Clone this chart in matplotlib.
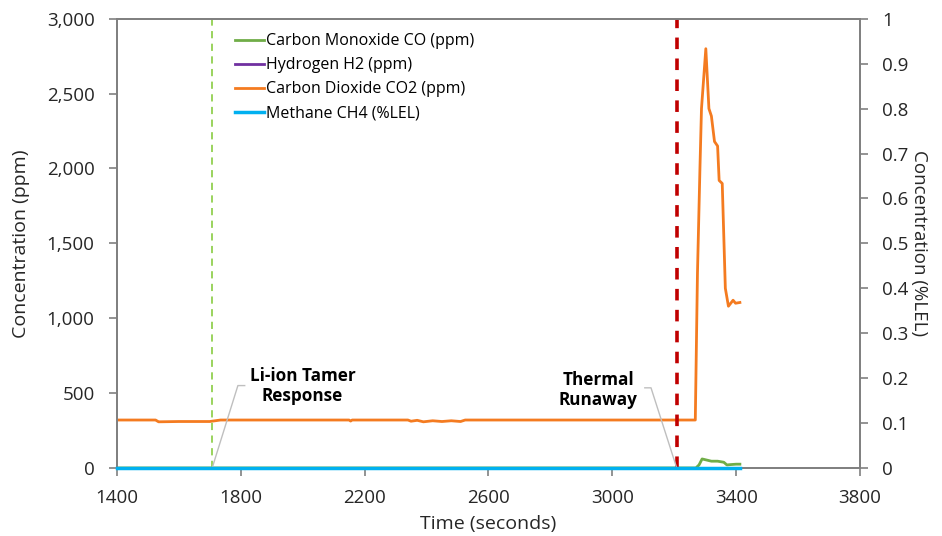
import matplotlib.pyplot as plt
from matplotlib.ticker import FuncFormatter

plt.rcParams['font.family'] = ['Open Sans', 'DejaVu Sans']

# CO2 (ppm)
co2_t = [1400, 1525, 1535, 1600, 1700, 1735, 2150, 2155, 2160, 2340, 2350, 2370, 2390, 2420,
         2450, 2480, 2510, 2525, 3268, 3275, 3283, 3288, 3302, 3307, 3312, 3320, 3330, 3340,
         3345, 3355, 3365, 3375, 3390, 3398, 3412]
co2_v = [320, 320, 308, 310, 310, 320, 320, 313, 320, 320, 312, 318, 308, 315,
         310, 315, 310, 320, 320, 1300, 2000, 2400, 2800, 2600, 2400, 2350, 2180, 2150,
         1920, 1900, 1200, 1080, 1120, 1100, 1105]

# CO (ppm)
co_t = [1400, 3270, 3280, 3290, 3300, 3320, 3340, 3360, 3370, 3380, 3400, 3412]
co_v = [0, 0, 20, 60, 55, 45, 45, 38, 20, 22, 25, 25]

# H2 (ppm) and CH4 (%LEL)
h2_t = [1400, 3412]
h2_v = [0, 0]
ch4_t = [1400, 3412]
ch4_v = [0, 0]

lione_time = 1707
runaway_time = 3208

fig = plt.figure(figsize=(9.42, 5.36), dpi=100)
ax = fig.add_axes([0.124, 0.127, 0.789, 0.838])
ax2 = ax.twinx()

l_co, = ax.plot(co_t, co_v, color='#70AD47', lw=2, label='Carbon Monoxide CO (ppm)')
l_h2, = ax.plot(h2_t, h2_v, color='#7030A0', lw=2, label='Hydrogen H2 (ppm)')
l_co2, = ax.plot(co2_t, co2_v, color='#F47B20', lw=2, label='Carbon Dioxide CO2 (ppm)')
l_ch4, = ax2.plot(ch4_t, ch4_v, color='#00B0F0', lw=2.5, label='Methane CH4 (%LEL)',
                  clip_on=False, zorder=3)

ax.axvline(lione_time, color='#92D050', lw=1.3, ls=(0, (4, 3)))
ax.axvline(runaway_time, color='#C00000', lw=2.6, ls=(0, (3.2, 2.6)))

ax.plot([1708, 1791, 1813], [0, 550, 550], color='#BFBFBF', lw=1)
ax.plot([3105, 3125, 3208], [535, 535, 0], color='#BFBFBF', lw=1)
ax.text(2000, 548, 'Li-ion Tamer\nResponse', ha='center', va='center',
        fontsize=12.3, fontweight='bold', linespacing=1.1)
ax.text(2954, 520, 'Thermal\nRunaway', ha='center', va='center',
        fontsize=12.3, fontweight='bold', linespacing=1.1)

ax.set_xlim(1400, 3800)
ax.set_ylim(0, 3000)
ax2.set_ylim(0, 1)
ax.set_xticks(range(1400, 3801, 400))
ax.set_yticks(range(0, 3001, 500))
ax2.set_yticks([i / 10 for i in range(11)])
ax.yaxis.set_major_formatter(FuncFormatter(lambda v, p: f'{int(v):,}'))
ax2.yaxis.set_major_formatter(FuncFormatter(lambda v, p: '0' if v == 0 else ('1' if v == 1 else f'{v:.1f}')))

for a in (ax, ax2):
    for s in a.spines.values():
        s.set_color('#808080')
        s.set_linewidth(1.3)
    a.tick_params(colors='#808080', labelcolor='#262626', labelsize=13.5, length=6, width=1.2)
ax.tick_params(axis='y', pad=10)
ax.tick_params(axis='x', pad=9)
ax2.tick_params(axis='y', pad=10)

ax.set_xlabel('Time (seconds)', fontsize=14, color='#262626', labelpad=6)
ax.set_ylabel('Concentration (ppm)', fontsize=14, color='#262626', labelpad=12)
ax2.set_ylabel('Concentration (%LEL)', fontsize=13.5, color='#262626', rotation=-90, labelpad=14)

ax.legend(handles=[l_co, l_h2, l_co2, l_ch4], loc='upper left', bbox_to_anchor=(0.14, 1.0),
          frameon=False, fontsize=11.5, labelspacing=0.5, handlelength=1.8, handletextpad=0.15)

fig.savefig('out.png', dpi=100)
